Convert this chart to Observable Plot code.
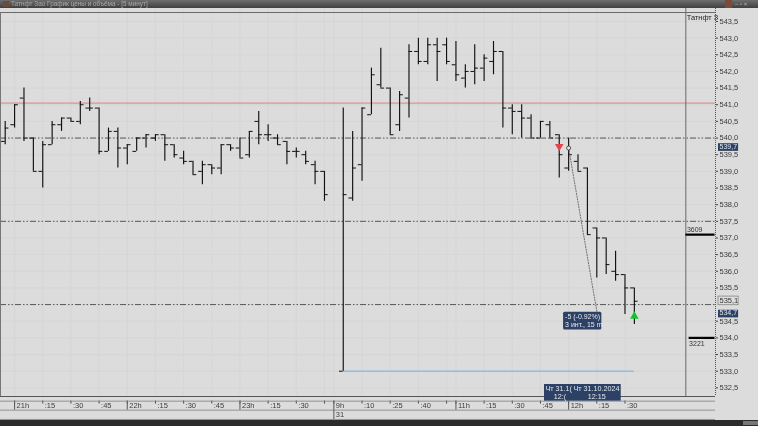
<!DOCTYPE html>
<html><head><meta charset="utf-8">
<style>
html,body{margin:0;padding:0;background:#dcdcdc;overflow:hidden;width:758px;height:426px}
#wrap{position:relative;width:758px;height:426px;filter:blur(.4px);font-family:"Liberation Sans",sans-serif}
#chart{position:absolute;left:0;top:0}
.c{position:absolute}
</style>
<script src="https://cdn.jsdelivr.net/npm/d3@7"></script>
<script src="https://cdn.jsdelivr.net/npm/@observablehq/plot@0.6"></script>
</head><body><div id="wrap"><div id="chart"></div>
<div class="c" style="left:0;top:0;width:758px;height:8px;background:linear-gradient(#6e6e6e,#3f3f3f)"></div>
<div class="c" style="left:3px;top:1px;width:6px;height:6px;background:#6b4a3c"></div>
<div class="c" style="left:11px;top:0;height:8px;line-height:8px;font-size:6.4px;color:#a8a8a8;white-space:nowrap">Татнфт Зао График цены и объёма - [5 минут]</div>
<div class="c" style="left:725px;top:0;width:7px;height:8px;background:#7d4a38"></div>
<div class="c" style="left:735px;top:0;width:20px;height:8px;line-height:8px;font-size:6px;color:#bbb;white-space:nowrap">– ▫ ×</div>
<div class="c" style="left:0;top:11.5px;width:715px;height:1.2px;background:#6a6a6a"></div>
<div class="c" style="left:0;top:12px;width:1.2px;height:384px;background:#777"></div>
<div class="c" style="left:0;top:419.5px;width:758px;height:6.5px;background:#2b2b2b"></div>
<div class="c" style="left:743px;top:421px;width:15px;height:4px;background:#777"></div>
</div>
<script>
// Price bars, 5-minute (index 35 is the overnight gap)
const barIndex = [0,1,2,3,4,5,6,7,8,9,10,11,12,13,14,15,16,17,18,19,20,21,22,23,24,25,26,27,28,29,30,31,32,33,34,
  36,37,38,39,40,41,42,43,44,45,46,47,48,49,50,51,52,53,54,55,56,57,58,59,60,61,62,63,64,65,66,67];
const opens  = [539.9,540.4,541.2,540,539,539.8,540.4,540.6,540.5,540.9,540.9,539.6,540.2,539.7,539.6,540,540,540.1,539.8,539.4,539.3,539,539.2,539.1,539.8,539.7,539.5,540.5,540.1,540,539.9,539.6,539.5,539.2,539,
  533,538.2,539.2,540.7,541.6,541.5,540.4,541.2,542.6,542.3,542.8,542.8,542.2,541.8,542,542.1,542.3,542.6,540.9,540.8,540.6,540,540.4,540.1,539.1,539.3,539.1,537.3,537,536,535.9,535.5];
const highs  = [540.5,541,541.5,540,539.9,540.5,540.6,540.6,541.1,541.2,540.9,540.3,540.3,539.8,540,540.1,540.1,540.1,539.8,539.6,539.3,539.3,539.2,539.8,539.8,540,540.2,540.8,540.4,540.1,539.9,539.7,539.6,539.3,539,
  540.9,540.2,540.9,542.1,542.7,541.5,541.4,542.8,543,543,543,543,542.9,542.2,542.8,542.5,542.9,542.6,541,541,540.7,540.5,540.5,540.1,540,539.5,539.1,537.3,537,536.6,535.9,535.5];
const lows   = [539.8,540.3,539.9,539,538.5,539.8,540.2,540.5,540.4,540.8,539.5,539.6,539.1,539.2,539.6,539.7,539.9,539.3,539.4,539.2,538.9,538.6,538.9,538.9,539.6,539.4,539.4,539.8,539.9,539.8,539.2,539.4,539.2,538.6,538.1,
  533,538.1,538.7,540.7,541.5,540.1,540.2,540.6,542.2,542.2,541.7,542.2,541.7,541.5,541.6,541.7,541.9,540.3,540.1,540,540,540,540,538.8,539,539,537.1,535.8,535.9,535.7,534.7,534.4];
const closes = [540.3,541,540,539,539.8,540.4,540.6,540.5,541,540.9,539.6,540.2,539.7,539.8,540,540.1,540.1,539.8,539.5,539.3,538.9,539.2,539.1,539.8,539.7,539.4,540.2,540.1,540.1,539.8,539.6,539.6,539.3,539,538.3,
  538.3,539.1,540.9,541.9,541.5,540.1,541.3,542.6,542.3,542.8,542.6,542.3,541.9,542,542.1,542.4,542.6,540.9,540.8,540.6,540,540.5,540,539.5,539.5,539,537.1,537,536.2,535.9,535.5,535.1];

// Levels and annotations
const levels = [540, 537.5, 535];
const redLevel = 541.05;
const baseLine = {from: 36, to: 67, price: 533};
const volumes = [{price: 537.1, value: 3609}, {price: 534, value: 3221}];
const priceTickValues = [532.5,533,533.5,534,534.5,535,535.5,536,536.5,537,537.5,538,538.5,539,539.5,540,540.5,541,541.5,542,542.5,543,543.5];
const timeTicks = [1,4,7,10,13,16,19,22,25,28,31,34,35,38,41,44,47,48,51,54,57,60,63,66];
const timeLabels = ["21h",":15",":30",":45","22h",":15",":30",":45","23h",":15",":30","","9h",":10",":25",":40","","11h",":15",":30",":45","12h",":15",":30"];
const majorTicks = [1,13,25,35,48,60];
const trade = [{i: 60, p: 539.7}, {i: 63, p: 534.8}];

const bars = barIndex.map((i,k) => ({i, o: opens[k], h: highs[k], l: lows[k], c: closes[k]}));
const comma = d => d.toFixed(1).replace(".", ",");
const ink = "#111", txt = "#3c3c3c", navy = "#2c4163";
const panelL = 72.48, axisR = 75.64, tagL = 75.96, tagR = 78.1;
const F = "Liberation Sans";

const plot = Plot.plot({
  width: 758, height: 426,
  marginLeft: 0, marginRight: 43, marginTop: 0, marginBottom: 30,
  style: {background: "#dcdcdc", fontFamily: F, fontSize: "8px", overflow: "visible"},
  x: {domain: [-0.5, axisR]},
  y: {domain: [532.24, 544.13]},
  marks: [
    Plot.gridY(priceTickValues, {stroke: "#d4d4d4", strokeOpacity: 1, strokeWidth: 0.8}),
    Plot.gridX(timeTicks, {stroke: "#d4d4d4", strokeOpacity: 1, strokeWidth: 0.8}),
    Plot.ruleY([redLevel], {stroke: "#dd8080", strokeWidth: 1}),
    Plot.ruleY(levels, {stroke: "#4a4a4a", strokeWidth: 0.9, strokeDasharray: "6 2 1.5 2 1.5 2"}),
    Plot.ruleX([panelL], {stroke: "#6a6a6a", strokeWidth: 1}),
    Plot.ruleX([axisR], {stroke: "#555", strokeWidth: 1, strokeDasharray: "1 1"}),
    Plot.ruleY([baseLine], {x1: "from", x2: "to", y: "price", stroke: "#93bedb", strokeWidth: 1.5}),
    // OHLC bars
    Plot.ruleX(bars, {x: "i", y1: "l", y2: "h", stroke: ink, strokeWidth: 1.15}),
    Plot.ruleY(bars, {x1: d => d.i - 0.4, x2: "i", y: "o", stroke: ink, strokeWidth: 1}),
    Plot.ruleY(bars, {x1: "i", x2: d => d.i + 0.4, y: "c", stroke: ink, strokeWidth: 1}),
    // trade
    Plot.line(trade, {x: "i", y: "p", stroke: "#555", strokeWidth: 0.8, strokeDasharray: "1.2 1.5"}),
    Plot.dot([trade[0]], {x: "i", y: "p", r: 2, stroke: "#333", fill: "#e8e8e8", strokeWidth: 0.8}),
    Plot.dot([{i: 59, p: 539.75}], {x: "i", y: "p", symbol: "triangle", r: 3.2, rotate: 180, fill: "#e8434a"}),
    Plot.dot([{i: 67, p: 534.65}], {x: "i", y: "p", symbol: "triangle", r: 3.2, fill: "#18c22f"}),
    // volume profile
    Plot.ruleY(volumes, {x1: d => axisR - d.value / 3609 * 3.15, x2: axisR - 0.05, y: "price", stroke: "#000", strokeWidth: 2.2}),
    Plot.text(volumes.slice(0,1), {x: d => axisR - d.value / 3609 * 3.15, y: "price", text: d => String(d.value), textAnchor: "start", fontSize: 7, fill: "#333", dx: 1, dy: -5}),
    Plot.text(volumes.slice(1), {x: d => axisR - d.value / 3609 * 3.15, y: "price", text: d => String(d.value), textAnchor: "start", fontSize: 7, fill: "#333", dx: 0, dy: 6}),
    Plot.text(["Татнфт З"], {x: panelL, y: 543.61, text: d => d, textAnchor: "start", dx: 1, fontSize: 7.4, fill: "#222"}),
    // axes
    Plot.axisY({anchor: "right", ticks: priceTickValues.filter(d => d !== 535), tickFormat: comma, tickSize: 2, tickPadding: 2, fontSize: 7.5, fill: txt, stroke: "#444", label: null, textAnchor: "start"}),
    Plot.axisX({anchor: "bottom", ticks: timeTicks, tickFormat: () => "", tickSize: 3, stroke: "#444", label: null, dy: 4.5}),
    Plot.text(timeTicks, {x: d => d, y: 531.97, text: d => timeLabels[timeTicks.indexOf(d)], textAnchor: "start", dx: 2, fontSize: 7.5, fill: txt}),
    Plot.ruleX(majorTicks, {y1: 532.1, y2: 531.83, stroke: "#555", strokeWidth: 1}),
    Plot.ruleY([532.24], {x1: -0.5, x2: axisR, stroke: "#555", strokeWidth: 1.2}),
    Plot.ruleY([532.1, 531.83, 531.55], {x1: -0.5, x2: axisR, stroke: "#8a8a8a", strokeWidth: 0.9}),
    Plot.ruleX([35], {y1: 531.83, y2: 531.55, stroke: "#555", strokeWidth: 1}),
    Plot.text(["31"], {x: 35, y: 531.69, text: d => d, textAnchor: "start", dx: 2, fontSize: 7.5, fill: txt}),
    // price tags
    Plot.rect([{}], {x1: tagL, x2: tagR, y1: 539.6, y2: 539.83, fill: navy}),
    Plot.text(["539,7"], {x: tagL, y: 539.74, text: d => d, textAnchor: "start", dx: 1, fontSize: 7, fill: "#dfe4ee"}),
    Plot.rect([{}], {x1: tagL, x2: tagR, y1: 534.98, y2: 535.24, fill: "#dedede", stroke: "#777", strokeWidth: 0.7}),
    Plot.text(["535,1"], {x: tagL, y: 535.11, text: d => d, textAnchor: "start", dx: 1, fontSize: 7.5, fill: "#333"}),
    Plot.rect([{}], {x1: tagL, x2: tagR, y1: 534.6, y2: 534.83, fill: navy}),
    Plot.text(["534,7"], {x: tagL, y: 534.74, text: d => d, textAnchor: "start", dx: 1, fontSize: 7, fill: "#dfe4ee"}),
    // tooltip
    Plot.rect([{}], {x1: 59.46, x2: 63.54, y1: 534.24, y2: 534.77, fill: navy, rx: 1.5}),
    Plot.text(["-5 (-0.92%)"], {x: 59.46, y: 534.63, text: d => d, textAnchor: "start", dx: 1.5, fontSize: 7, fill: "#e4e8f0"}),
    Plot.text(["3 инт., 15 m"], {x: 59.46, y: 534.38, text: d => d, textAnchor: "start", dx: 1.5, fontSize: 7, fill: "#e4e8f0"}),
    // time crosshair labels
    Plot.rect([{}], {x1: 57.43, x2: 65.6, y1: 532.1, y2: 532.6, fill: navy}),
    Plot.text(["Чт 31.1("], {x: 57.43, y: 532.47, text: d => d, textAnchor: "start", dx: 1, fontSize: 7.2, fill: "#e4e8f0"}),
    Plot.text(["12:("], {x: 59.5, y: 532.22, text: d => d, textAnchor: "middle", dx: -4, fontSize: 7.2, fill: "#e4e8f0"}),
    Plot.text(["Чт 31.10.2024"], {x: 60.3, y: 532.47, text: d => d, textAnchor: "start", dx: 2, fontSize: 7.2, fill: "#e4e8f0"}),
    Plot.text(["12:15"], {x: 63, y: 532.22, text: d => d, textAnchor: "middle", fontSize: 7.2, fill: "#e4e8f0"})
  ]
});
document.getElementById("chart").append(plot);
</script></body></html>
